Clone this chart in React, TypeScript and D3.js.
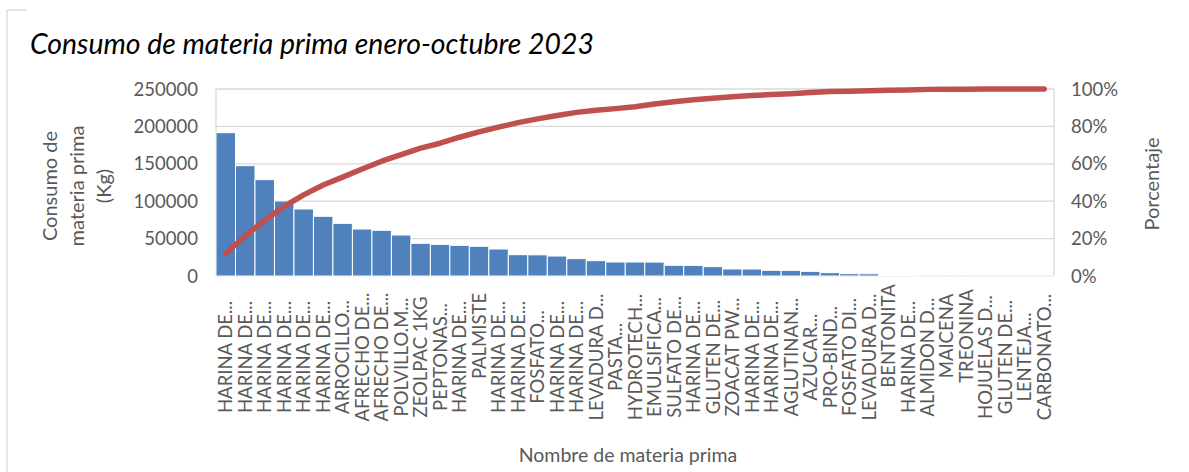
import * as d3 from "d3";

// nombres de materia prima (tal como aparecen en el eje)
const categories = [
  "HARINA DE...", "HARINA DE...", "HARINA DE...", "HARINA DE...", "HARINA DE...",
  "HARINA DE...", "ARROCILLO...", "AFRECHO DE...", "AFRECHO DE...", "POLVILLO.M...",
  "ZEOLPAC 1KG", "PEPTONAS...", "HARINA DE...", "PALMISTE", "HARINA DE...",
  "HARINA DE...", "FOSFATO...", "HARINA DE...", "HARINA DE...", "LEVADURA D...",
  "PASTA...", "HYDROTECH...", "EMULSIFICA...", "SULFATO DE...", "HARINA DE...",
  "GLUTEN DE...", "ZOACAT PW...", "HARINA DE...", "HARINA DE...", "AGLUTINAN...",
  "AZUCAR...", "PRO-BIND...", "FOSFATO DI...", "LEVADURA D...", "BENTONITA",
  "HARINA DE...", "ALMIDON D...", "MAICENA", "TREONINA", "HOJUELAS D...",
  "GLUTEN DE...", "LENTEJA...", "CARBONATO...",
];

// consumo en Kg
const consumo = [
  191600, 147500, 128800, 100300, 89600, 79800, 70400, 62800, 61100, 54800,
  43700, 42300, 41000, 39700, 36100, 28500, 28300, 26700, 23200, 20500,
  18700, 18700, 18600, 14300, 14200, 12500, 9400, 9300, 7600, 7500,
  6200, 4500, 3100, 3000, 1300, 1300, 400, 200, 150, 100,
  80, 50, 30,
];

// porcentaje acumulado (curva de Pareto)
const porcentaje = [
  0.12, 0.214, 0.298, 0.372, 0.434, 0.487, 0.529, 0.572, 0.614, 0.649,
  0.684, 0.71, 0.742, 0.771, 0.796, 0.82, 0.84, 0.858, 0.875, 0.886,
  0.895, 0.905, 0.92, 0.932, 0.942, 0.951, 0.958, 0.965, 0.97, 0.975,
  0.981, 0.986, 0.988, 0.991, 0.993, 0.995, 0.998, 0.999, 0.999, 1,
  1, 1, 1,
];

const yTicks = [0, 50000, 100000, 150000, 200000, 250000];
const pctTicks = [0, 0.2, 0.4, 0.6, 0.8, 1];

const W = 1189;
const H = 472;
const margin = { top: 89, bottom: 196, left: 216, right: 135 };
const FONT = "Lato, 'Open Sans', sans-serif";
const GRID = "#D9D9D9";
const TXT = "#595959";

export default function App() {
  const x = d3
    .scaleBand<number>()
    .domain(d3.range(categories.length))
    .range([margin.left, W - margin.right])
    .padding(0);
  const y = d3.scaleLinear().domain([0, 250000]).range([H - margin.bottom, margin.top]);
  const yp = d3.scaleLinear().domain([0, 1]).range([H - margin.bottom, margin.top]);

  const line = d3
    .line<number>()
    .x((_, i) => x(i)! + x.bandwidth() / 2)
    .y((d) => yp(d));

  const x0 = margin.left;
  const x1 = W - margin.right;
  const bottom = H - margin.bottom;

  return (
    <svg
      width={W}
      height={H}
      style={{ position: "absolute", left: 0, top: 0, background: "#fff" }}
      fontFamily={FONT}
    >
      {/* borde del gráfico */}
      <line x1={7} x2={7} y1={10} y2={H} stroke={GRID} strokeWidth={1.3} />
      <line x1={7} x2={27} y1={10} y2={10} stroke={GRID} strokeWidth={1.3} />

      <text x={30} y={54} fontSize={28.4} fontStyle="italic" fill="#000">
        Consumo de materia prima enero-octubre 2023
      </text>

      {/* rejilla */}
      {yTicks.map((t) => (
        <line key={t} x1={x0} x2={x1} y1={y(t)} y2={y(t)} stroke={GRID} strokeWidth={1.3} />
      ))}
      <line x1={x0} x2={x0} y1={margin.top} y2={bottom} stroke={GRID} strokeWidth={1.3} />
      <line x1={x1} x2={x1} y1={margin.top} y2={bottom} stroke={GRID} strokeWidth={1.3} />

      {/* barras */}
      {consumo.map((v, i) => (
        <rect
          key={i}
          x={x(i)}
          y={y(v)}
          width={x.bandwidth()}
          height={bottom - y(v)}
          fill="#4F81BD"
          stroke="#fff"
          strokeWidth={1}
        />
      ))}

      {/* curva de Pareto */}
      <path
        d={line(porcentaje) ?? ""}
        fill="none"
        stroke="#C0504D"
        strokeWidth={5.5}
        strokeLinecap="round"
        strokeLinejoin="round"
      />

      {/* eje izquierdo */}
      {yTicks.map((t) => (
        <text key={t} x={198} y={y(t)} dy="0.36em" textAnchor="end" fontSize={18.5} fill={TXT}>
          {t}
        </text>
      ))}
      {/* eje derecho */}
      {pctTicks.map((t) => (
        <text key={t} x={1071} y={yp(t)} dy="0.36em" fontSize={18.5} fill={TXT}>
          {Math.round(t * 100) + "%"}
        </text>
      ))}

      {/* etiquetas de categorías */}
      {categories.map((c, i) => {
        const single = !c.includes(" ") && !c.endsWith("...");
        const cy = single ? 336 : 357;
        const cx = x(i)! + x.bandwidth() / 2;
        return (
          <text
            key={i}
            transform={`translate(${cx},${cy}) rotate(-90)`}
            textAnchor="middle"
            dy="0.36em"
            fontSize={18.5}
            fill={TXT}
          >
            {c}
          </text>
        );
      })}

      {/* títulos de ejes */}
      {["Consumo de", "materia prima", "(Kg)"].map((s, i) => (
        <text
          key={s}
          transform={`translate(${50 + i * 27},186) rotate(-90)`}
          textAnchor="middle"
          dy="0.36em"
          fontSize={20}
          fill={TXT}
        >
          {s}
        </text>
      ))}
      <text
        transform="translate(1152,184) rotate(-90)"
        textAnchor="middle"
        dy="0.36em"
        fontSize={20}
        fill={TXT}
      >
        Porcentaje
      </text>
      <text x={628} y={455} dy="0.36em" textAnchor="middle" fontSize={19.5} fill={TXT}>
        Nombre de materia prima
      </text>
    </svg>
  );
}
